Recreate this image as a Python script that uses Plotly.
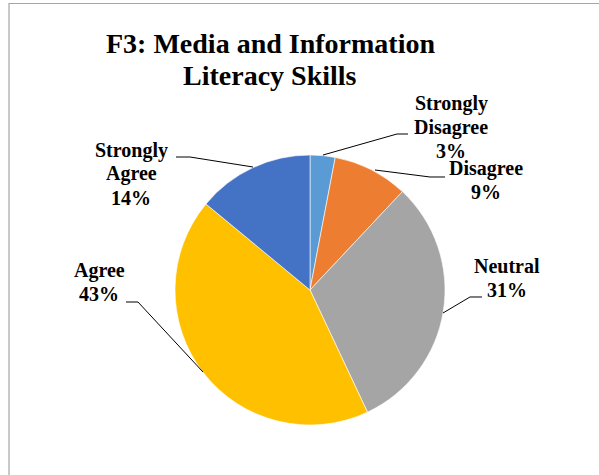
import plotly.graph_objects as go

categories = ["Strongly Disagree", "Disagree", "Neutral", "Agree", "Strongly Agree"]
values = [3, 9, 31, 43, 14]
colors = ["#5B9BD5", "#ED7D31", "#A5A5A5", "#FFC000", "#4472C4"]
label_lines = [["Strongly", "Disagree"], ["Disagree"], ["Neutral"], ["Agree"], ["Strongly", "Agree"]]
title_lines = ["F3: Media and Information", "Literacy Skills"]

W, H = 599, 475
def px(x): return x / W
def py(y): return 1 - y / H

FONT = "Liberation Serif"

fig = go.Figure()
fig.add_trace(go.Pie(
    labels=categories, values=values, sort=False, direction="clockwise", rotation=0,
    marker=dict(colors=colors, line=dict(color="white", width=0.6)),
    textinfo="none", hoverinfo="label+percent", showlegend=False,
    domain=dict(x=[px(175), px(445)], y=[py(425), py(155)]),
))

annotations = []
for i, t in enumerate(title_lines):
    annotations.append(dict(text=t, x=px(270), y=py([53, 85][i] - 10), xref="paper", yref="paper",
                            xanchor="center", yanchor="middle", showarrow=False,
                            font=dict(family=FONT, size=28, color="black", weight="bold")))

label_pos = [(451, 110), (486, 175), (507, 273), (99, 277), (131, 157)]
spacing = 24
for i, cat in enumerate(categories):
    lines = label_lines[i] + [f"{values[i]}%"]
    cx, by = label_pos[i]
    for j, ln in enumerate(lines):
        annotations.append(dict(text=ln, x=px(cx), y=py(by + j * spacing - 7), xref="paper", yref="paper",
                                xanchor="center", yanchor="middle", showarrow=False,
                                font=dict(family=FONT, size=20, color="black", weight="bold")))

leaders = [
    [(323, 155), (397, 134), (408, 134)],
    [(375, 170), (430, 177), (445, 177)],
    [(443, 313), (470, 297), (482, 297)],
    [(203, 372), (138, 302), (126, 302)],
    [(253, 167), (190, 157), (176, 157)],
]
shapes = []
for pts in leaders:
    path = "M " + " L ".join(f"{px(x):.5f},{py(y):.5f}" for x, y in pts)
    shapes.append(dict(type="path", path=path, xref="paper", yref="paper",
                       line=dict(color="black", width=1)))
shapes.append(dict(type="rect", xref="paper", yref="paper", x0=px(9), y0=py(3.5), x1=px(640), y1=py(520),
                   line=dict(color="#A6A6A6", width=1.2), fillcolor="rgba(0,0,0,0)"))

fig.update_layout(width=W, height=H, margin=dict(l=0, r=0, t=0, b=0),
                  paper_bgcolor="white", plot_bgcolor="white",
                  annotations=annotations, shapes=shapes)
fig.write_html("out.html", config={"displayModeBar": False},
               post_script="document.body.style.margin='0';document.body.style.overflow='hidden';")
